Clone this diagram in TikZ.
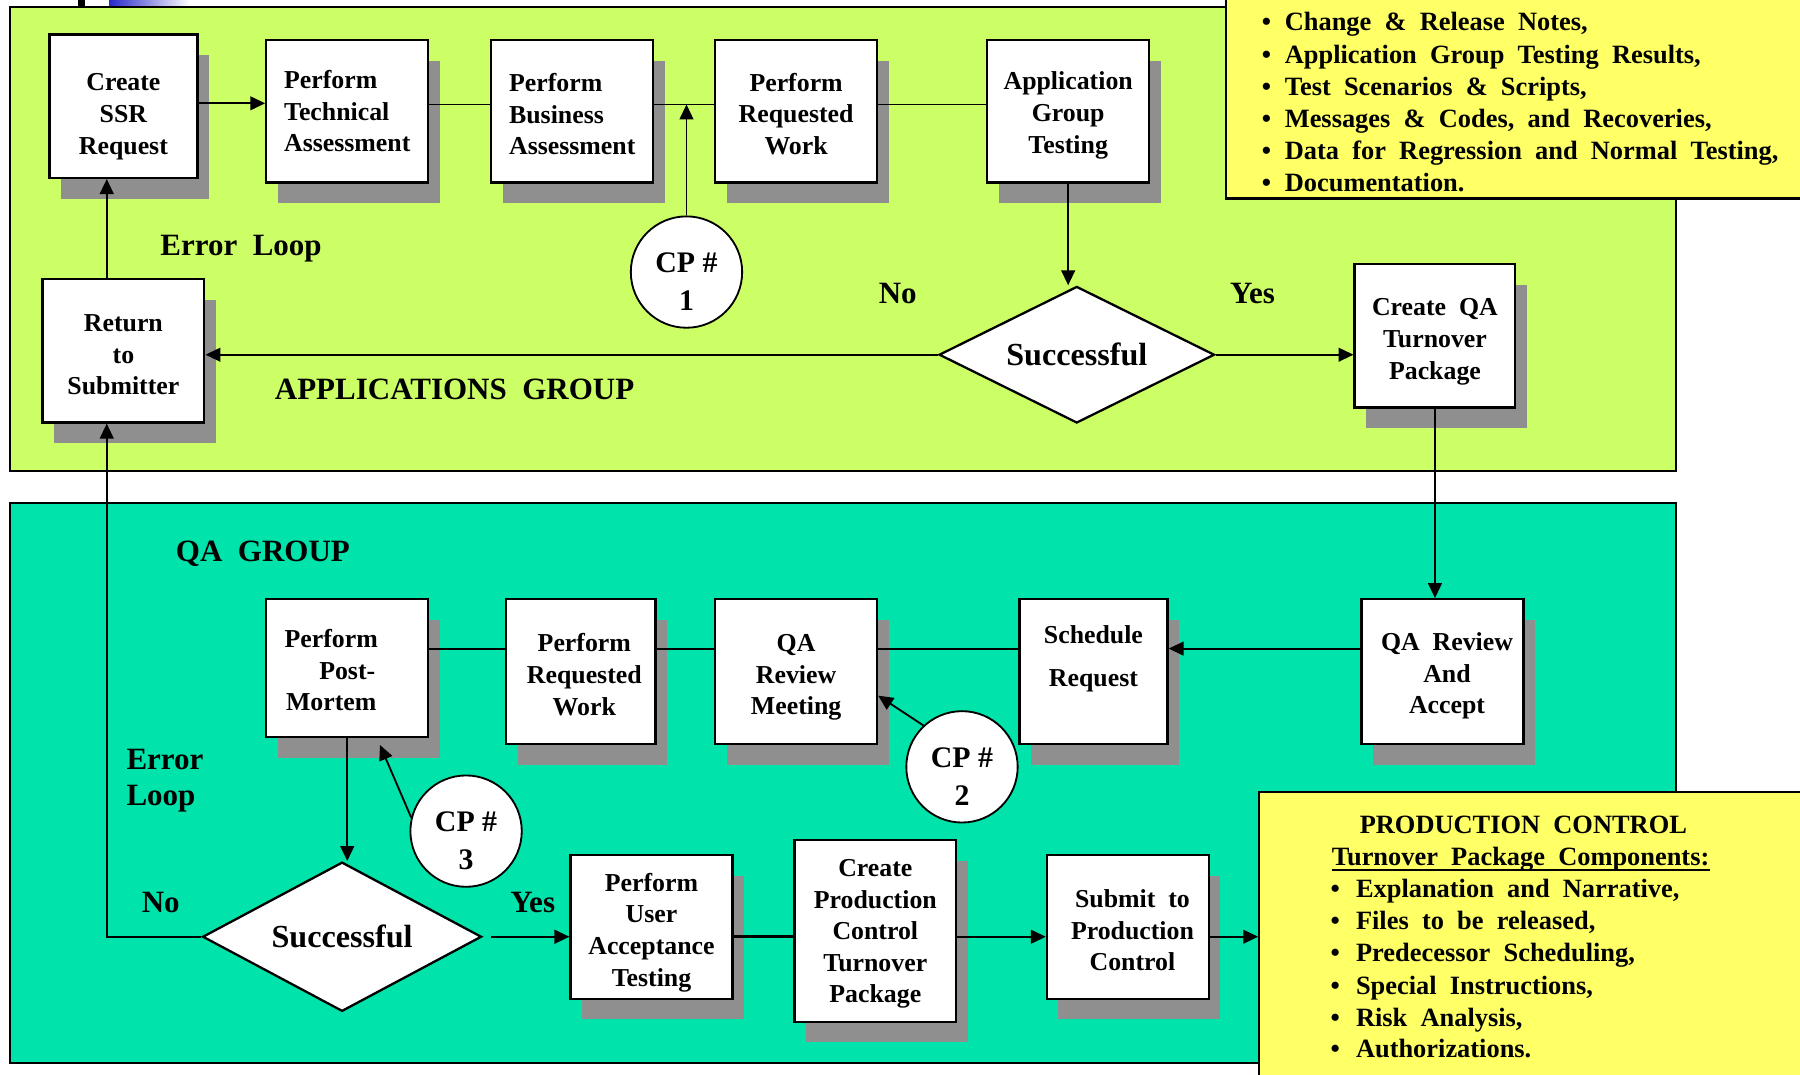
\documentclass[tikz,border=0pt]{standalone}
\usepackage{fontspec}
\setmainfont{Liberation Serif}
\usetikzlibrary{arrows.meta,shapes.geometric,shadows}

\definecolor{appgreen}{RGB}{204,255,102}
\definecolor{qateal}{RGB}{0,227,170}
\definecolor{noteyellow}{RGB}{255,255,102}
\definecolor{shadowgray}{RGB}{143,143,143}
\definecolor{barblue}{RGB}{40,40,200}

\newcommand{\wsp}{\spaceskip=0.5em plus 0.1em minus 0.05em\relax}
\newcommand{\boxfont}{\fontsize{22.5}{27.5}\selectfont\bfseries\wsp}
\newcommand{\labfont}{\fontsize{27}{32}\selectfont\bfseries\wsp}
\newcommand{\notefont}{\fontsize{23}{28}\selectfont\bfseries\wsp}

\begin{document}
\begin{tikzpicture}[x=1pt,y=-1pt,
  panel/.style={draw=black, line width=1.5pt, inner sep=0pt},
  notebox/.style={draw=black, line width=2pt, fill=noteyellow, inner sep=0pt},
  procbox/.style={draw=black, fill=white, line width=2pt, inner sep=0pt, align=center, font=\boxfont,
      drop shadow={shadow xshift=10pt, shadow yshift=-18pt, fill=shadowgray, opacity=1}},
  textdrop/.style={text depth=0pt, text height=#1},
  decision/.style={diamond, draw=black, fill=white, line width=2pt, inner sep=0pt, aspect=2,
      font=\fontsize{28}{32}\selectfont\bfseries},
  cpnode/.style={circle, draw=black, fill=white, line width=1.6pt, inner sep=0pt, minimum size=97pt,
      align=center, font=\fontsize{26}{33}\selectfont\bfseries, text depth=0pt, text height=67.5pt},
  lbl/.style={inner sep=0pt, font=\labfont, align=left},
  notetext/.style={inner sep=0pt, anchor=base west, font=\notefont},
  conn/.style={draw=black, line width=1.6pt},
  arr/.style={conn, -{Triangle[length=13pt,width=12pt]}},
]
\useasboundingbox (0,0) rectangle (1568,936);
\clip (0,0) rectangle (1568,936);
\fill[white] (0,0) rectangle (1568,936);

% fragments at the top edge
\fill[black] (68,0) rectangle (74,6);
\shade[left color=barblue, right color=white] (95,0) rectangle (165,6);

% group panels
\node[panel, fill=appgreen, minimum width=1451pt, minimum height=404pt] (apppanel) at (734.5,208) {};
\node[panel, fill=qateal, minimum width=1451pt, minimum height=488pt] (qapanel) at (734.5,682) {};

% note boxes
\node[notebox, minimum width=522pt, minimum height=193pt] (topnote) at (1329,76.5) {};
\node[notebox, minimum width=493pt, minimum height=270pt] (pcnote) at (1343.5,825) {};

\foreach \yy/\linetxt [count=\cnt] in {27/{Change \& Release Notes,}, 55/{Application Group Testing Results,}, 83/{Test Scenarios \& Scripts,}, 111/{Messages \& Codes, and Recoveries,}, 139/{Data for Regression and Normal Testing,}, 167/{Documentation.}}
  \node[notetext] (topline\cnt) at (1099,\yy) {\textbullet\hspace{12pt}\linetxt};

\node[inner sep=0pt, anchor=base, font=\notefont] (pctitle) at (1327,726) {PRODUCTION CONTROL};
\node[notetext] (pcsub) at (1160,754) {Turnover Package Components:};
\draw[line width=1.5pt] ([yshift=-4pt]pcsub.base west) -- ([yshift=-4pt]pcsub.base east);
\foreach \yy/\linetxt [count=\cnt] in {782/{Explanation and Narrative,}, 810/{Files to be released,}, 838/{Predecessor Scheduling,}, 866/{Special Instructions,}, 894/{Risk Analysis,}, 921/{Authorizations.}}
  \node[notetext] (pcline\cnt) at (1159,\yy) {\textbullet\hspace{14pt}\linetxt};

% applications group
\node[procbox, textdrop=83.4pt, minimum width=129pt, minimum height=125pt] (ssr) at (107.5,92.5) {Create\\SSR\\Request};
\node[procbox, align=left, minimum width=141pt, minimum height=124pt] (tech) at (302.5,97) {Perform\\Technical\\Assessment};
\node[procbox, textdrop=75.5pt, align=left, minimum width=141pt, minimum height=124pt] (bus) at (498.5,97) {Perform\\Business\\Assessment};
\node[procbox, textdrop=75.1pt, minimum width=141pt, minimum height=124pt] (prwa) at (693.5,97) {Perform\\Requested\\Work};
\node[procbox, textdrop=72.6pt, minimum width=141pt, minimum height=124pt] (agt) at (930.5,97) {Application\\Group\\Testing};
\node[procbox, textdrop=76.9pt, minimum width=141pt, minimum height=125pt] (ret) at (107.5,305.5) {Return\\to\\Submitter};
\node[procbox, textdrop=75.4pt, minimum width=140pt, minimum height=125pt] (cqa) at (1250,292.5) {Create QA\\Turnover\\Package};
\node[decision, minimum width=240pt, minimum height=119pt] (dec1) at (938,309) {Successful};
\node[cpnode] (cp1) at (598,237) {CP \#\\1};

\node[lbl] (errtop) at (210,217) {Error Loop};
\node[lbl] (appgrp) at (396,339) {APPLICATIONS GROUP};
\node[lbl] (no1) at (782,256) {No};
\node[lbl] (yes1) at (1091,256) {Yes};

% QA group
\node[lbl] (qagrp) at (229,482) {QA GROUP};
\node[lbl, anchor=west] (errbot) at (110,680) {Error\\Loop};
\node[lbl] (no2) at (140,786) {No};
\node[lbl] (yes2) at (464,786) {Yes};

\node[procbox, textdrop=74.3pt, minimum width=141pt, minimum height=120pt] (pm) at (302.5,582) {Perform\hspace*{28pt}\\Post-\hspace*{28pt}\\Mortem\hspace*{28pt}};
\node[procbox, textdrop=75.7pt, minimum width=130pt, minimum height=126pt] (prwb) at (506,585) {\hspace*{6pt}Perform\\\hspace*{6pt}Requested\\\hspace*{6pt}Work};
\node[procbox, textdrop=75.4pt, minimum width=141pt, minimum height=126pt] (qarm) at (693.5,585) {QA\\Review\\Meeting};
\node[procbox, minimum width=129pt, minimum height=126pt] (sched) at (952.5,585) {Schedule\\[10pt]Request\\\mbox{}};
\node[procbox, textdrop=73.4pt, minimum width=141pt, minimum height=126pt] (qar) at (1256.5,585) {\hspace*{8pt}QA Review\\\hspace*{8pt}And\\\hspace*{8pt}Accept};
\node[cpnode] (cp2) at (838,668) {CP \#\\2};
\node[cpnode] (cp3) at (406,724) {CP \#\\3};
\node[decision, minimum width=243pt, minimum height=130pt] (dec2) at (298,816) {Successful};
\node[procbox, textdrop=102.9pt, minimum width=141pt, minimum height=125pt] (puat) at (567.5,807.5) {Perform\\User\\Acceptance\\Testing};
\node[procbox, textdrop=125.2pt, minimum width=141pt, minimum height=158pt] (cpctp) at (762.5,811) {Create\\Production\\Control\\Turnover\\Package};
\node[procbox, textdrop=76.3pt, minimum width=141pt, minimum height=125pt] (sub) at (982.5,807.5) {\hspace*{8pt}Submit to\\\hspace*{8pt}Production\\\hspace*{8pt}Control};

% helper coordinates
\coordinate (loopx) at (93,0);
\coordinate (rowa0) at (0,90);
\coordinate (rowa) at (0,91);
\coordinate (rowb) at (0,565);
\coordinate (rowc) at (0,816);
\coordinate (cp2row) at (0,606);
\coordinate (cp3tip) at (331,649);

% connectors: applications group
\draw[arr] (ssr.east |- rowa0) -- (tech.west |- rowa0);
\draw[conn] (tech.east |- rowa) -- (bus.west |- rowa);
\draw[conn] (bus.east |- rowa) -- (prwa.west |- rowa);
\draw[conn] (prwa.east |- rowa) -- (agt.west |- rowa);
\draw[arr] (cp1.north) -- (cp1.north |- rowa);
\draw[arr] (agt.south) -- (agt.south |- dec1.north);
\draw[arr] (dec1.west) -- (ret.east |- dec1.west);
\draw[arr] (dec1.east) -- (cqa.west |- dec1.east);
\draw[arr] (loopx |- ret.north) -- (loopx |- ssr.south);
\draw[arr] (cqa.south) -- (cqa.south |- qar.north);

% connectors: QA group
\draw[arr] (qar.west |- rowb) -- (sched.east |- rowb);
\draw[conn] (sched.west |- rowb) -- (qarm.east |- rowb);
\draw[conn] (qarm.west |- rowb) -- (prwb.east |- rowb);
\draw[conn] (prwb.west |- rowb) -- (pm.east |- rowb);
\draw[arr] (cp2.133) -- (qarm.east |- cp2row);
\draw[arr] (cp3.166) -- (cp3tip);
\draw[arr] (pm.south) -- (pm.south |- dec2.north);
\draw[arr] (dec2.west) -| (loopx |- ret.south);
\draw[arr] ([xshift=7pt]dec2.east) -- (puat.west |- dec2.east);
\draw[conn, line width=2.5pt] (puat.east |- rowc) -- (cpctp.west |- rowc);
\draw[arr] (cpctp.east |- rowc) -- (sub.west |- rowc);
\draw[arr] (sub.east |- rowc) -- (pcnote.west |- rowc);
\end{tikzpicture}
\end{document}
